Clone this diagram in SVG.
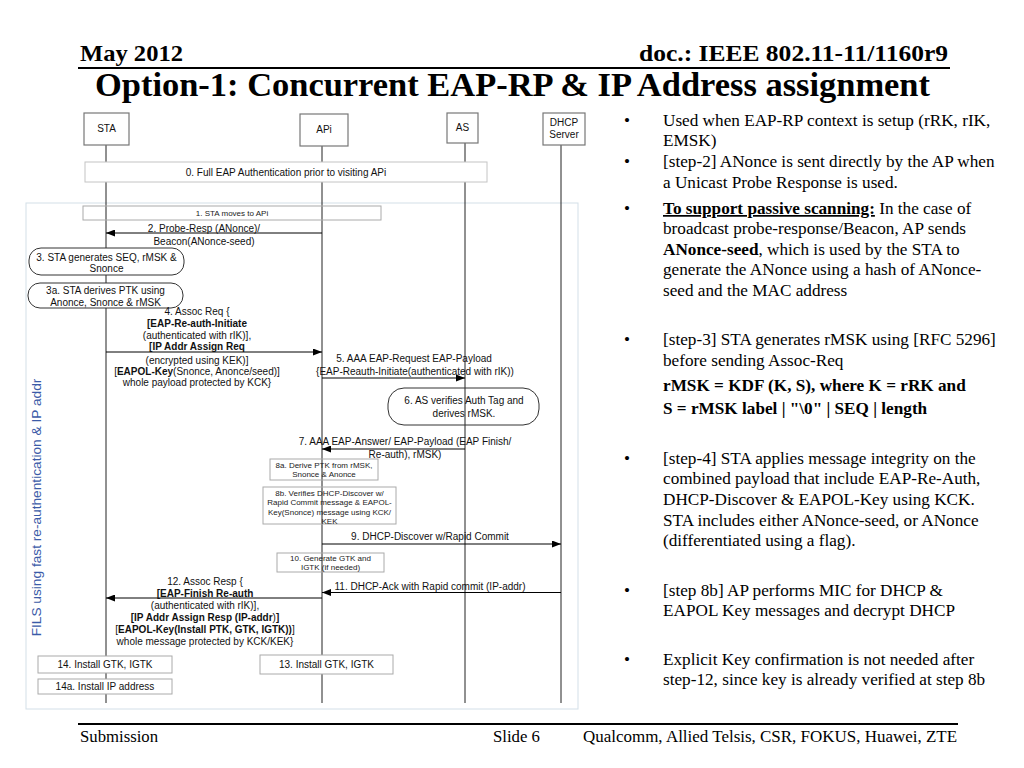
<svg xmlns="http://www.w3.org/2000/svg" width="1024" height="768" viewBox="0 0 1024 768">
<style>
.hdr{font-family:"Liberation Serif","Times New Roman",serif;font-weight:bold;fill:#000}
.ft{font-family:"Liberation Serif","Times New Roman",serif;font-size:16px;fill:#000}
.rt{font-family:"Liberation Serif","Times New Roman",serif;font-size:17.2px;fill:#000}
.bl{font-weight:bold}
.d{font-family:"Liberation Sans",Arial,sans-serif;font-size:10px;fill:#111;text-anchor:middle}
.s{font-family:"Liberation Sans",Arial,sans-serif;font-size:8px;fill:#222;text-anchor:middle}
.life{stroke:#222;stroke-width:1}
.msg{stroke:#000;stroke-width:1;fill:none;marker-end:url(#ah)}
.pbox{fill:#fff;stroke:#777;stroke-width:1.2}
.nbox{fill:none;stroke:#aaa;stroke-width:1}
.wbox{fill:#fff;stroke:#aaa;stroke-width:1}
.rbox{fill:#fff;stroke:#333;stroke-width:1}
.tbox{fill:none;stroke:#333;stroke-width:1}
</style>
<defs>
<marker id="ah" markerWidth="9" markerHeight="7" refX="9" refY="3.5" orient="auto" markerUnits="userSpaceOnUse"><path d="M0,0 L9,3.5 L0,7 z" fill="#000"/></marker>
</defs>
<rect width="1024" height="768" fill="#fff"/>

<g id="header">
<text class="hdr" x="80" y="61" font-size="23" textLength="103" lengthAdjust="spacingAndGlyphs">May 2012</text>
<text class="hdr" x="948" y="61" font-size="23" text-anchor="end" textLength="309" lengthAdjust="spacingAndGlyphs">doc.: IEEE 802.11-11/1160r9</text>
<line x1="78" y1="68" x2="950" y2="68" stroke="#000" stroke-width="2"/>
<text class="hdr" x="95" y="96" font-size="33" textLength="835" lengthAdjust="spacingAndGlyphs">Option-1: Concurrent EAP-RP &amp; IP Address assignment</text>
</g>

<g id="footer">
<line x1="78" y1="724" x2="958" y2="724" stroke="#000" stroke-width="2"/>
<text class="ft" x="80" y="742" textLength="78" lengthAdjust="spacingAndGlyphs">Submission</text>
<text class="ft" x="493" y="742" textLength="47" lengthAdjust="spacingAndGlyphs">Slide 6</text>
<text class="ft" x="957" y="742" text-anchor="end" textLength="374" lengthAdjust="spacingAndGlyphs">Qualcomm, Allied Telsis, CSR, FOKUS, Huawei, ZTE</text>
</g>

<g id="frame">
<rect x="26" y="203" width="552" height="506" fill="none" stroke="#d3dfe8" stroke-width="1"/>
<text x="0" y="0" transform="translate(41,507.5) rotate(-90)" font-family="'Liberation Sans',Arial,sans-serif" font-size="13.7" fill="#3b5ba8" text-anchor="middle">FILS using fast re-authentication &amp; IP addr</text>
</g>

<g id="lifelines">
<line class="life" x1="106" y1="145" x2="106" y2="703"/>
<line class="life" x1="322" y1="146" x2="322" y2="703"/>
<line class="life" x1="465" y1="143" x2="465" y2="703"/>
<line class="life" x1="561" y1="145" x2="561" y2="703"/>
</g>

<g id="sta"><rect class="pbox" x="84" y="113" width="45" height="32"/><text class="d" x="106.5" y="132" font-size="9.5">STA</text></g>
<g id="api"><rect class="pbox" x="300" y="114" width="48" height="32"/><text class="d" x="324" y="133" font-size="9.5">APi</text></g>
<g id="as"><rect class="pbox" x="447" y="113" width="31" height="30"/><text class="d" x="462.5" y="131" font-size="9.5">AS</text></g>
<g id="dhcp"><rect class="pbox" x="543" y="113" width="42" height="32"/><text class="d" x="564" y="126" font-size="9.5">DHCP</text><text class="d" x="564" y="137.5" font-size="9.5">Server</text></g>

<g id="step0"><rect x="85" y="162" width="402" height="20" fill="#fff" stroke="#c4c4c4"/><text class="d" x="286" y="175.5" font-size="9.6">0. Full EAP Authentication prior to visiting APi</text></g>
<g id="step1"><rect class="nbox" x="83" y="206" width="298" height="14" stroke="#bbb"/><text class="s" x="232" y="216" font-size="7.8">1. STA moves to APi</text></g>

<g id="connectors">
<line class="msg" x1="322" y1="233" x2="106" y2="233"/>
<line class="msg" x1="106" y1="352" x2="322" y2="352"/>
<line class="msg" x1="322" y1="378" x2="465" y2="378"/>
<line class="msg" x1="465" y1="449" x2="322" y2="449"/>
<line class="msg" x1="322" y1="544" x2="561" y2="544"/>
<line class="msg" x1="561" y1="592.5" x2="322" y2="592.5"/>
<line class="msg" x1="322" y1="598" x2="106" y2="598"/>
</g>

<g id="label2"><text class="d" x="204" y="231.5">2. Probe-Resp (ANonce)/</text><text class="d" x="204" y="244.5">Beacon(ANonce-seed)</text></g>

<g id="step3"><rect class="rbox" x="29" y="248" width="155" height="27" rx="12" ry="12"/><text class="d" x="106.5" y="260.5">3. STA generates SEQ, rMSK &amp;</text><text class="d" x="106.5" y="272">Snonce</text></g>
<g id="step3a"><rect class="rbox" x="28" y="283" width="155" height="25" rx="12" ry="12"/><text class="d" x="105.5" y="294">3a. STA derives PTK using</text><text class="d" x="105.5" y="305.5">Anonce, Snonce &amp; rMSK</text></g>

<g id="label4">
<text class="d" x="197" y="315">4. Assoc Req {</text>
<text class="d" x="197" y="327"><tspan class="bl">[EAP-Re-auth-Initiate</tspan></text>
<text class="d" x="197" y="338.5">(authenticated with rIK)],</text>
<text class="d" x="197" y="350"><tspan class="bl">[IP Addr Assign Req</tspan></text>
<text class="d" x="197" y="363.5">(encrypted using KEK)]</text>
<text class="d" x="197" y="375">[<tspan class="bl">EAPOL-Key</tspan>(Snonce, Anonce/seed)]</text>
<text class="d" x="197" y="386">whole payload protected by KCK}</text>
</g>

<g id="label5"><text class="d" x="414" y="361.5">5. AAA EAP-Request EAP-Payload</text><text class="d" x="415" y="374.5">{EAP-Reauth-Initiate(authenticated with rIK))</text></g>

<g id="step6"><rect class="tbox" x="388" y="388" width="151" height="37" rx="16" ry="16"/><text class="d" x="464" y="403.5">6. AS verifies Auth Tag and</text><text class="d" x="464" y="416.5">derives rMSK.</text></g>

<g id="label7"><text class="d" x="405" y="444.5">7. AAA EAP-Answer/ EAP-Payload (EAP Finish/</text><text class="d" x="405" y="457.5">Re-auth), rMSK)</text></g>

<g id="step8a"><rect class="nbox" x="270" y="459" width="108" height="21"/><text class="s" x="324" y="467.5">8a. Derive PTK from rMSK,</text><text class="s" x="324" y="477">Snonce &amp; Anonce</text></g>
<g id="step8b"><rect class="nbox" x="263" y="487" width="133" height="37"/><text class="s" x="329.5" y="495.5">8b. Verifies DHCP-Discover w/</text><text class="s" x="329.5" y="505">Rapid Commit message &amp; EAPOL-</text><text class="s" x="329.5" y="514.5">Key(Snonce) message using KCK/</text><text class="s" x="329.5" y="523.5">KEK</text></g>

<g id="label9"><text class="d" x="430" y="539.5">9. DHCP-Discover w/Rapid Commit</text></g>

<g id="step10"><rect class="nbox" x="277" y="553" width="107" height="19"/><text class="s" x="330.5" y="560.5">10. Generate GTK and</text><text class="s" x="330.5" y="570">IGTK (if needed)</text></g>

<g id="label11"><text class="d" x="430" y="590">11. DHCP-Ack with Rapid commit (IP-addr)</text></g>

<g id="label12">
<text class="d" x="205" y="585">12. Assoc Resp {</text>
<text class="d" x="205" y="596.5"><tspan class="bl">[EAP-Finish Re-auth</tspan></text>
<text class="d" x="205" y="608.5">(authenticated with rIK)],</text>
<text class="d" x="205" y="621"><tspan class="bl">[IP Addr Assign Resp (IP-addr</tspan>)<tspan class="bl">]</tspan></text>
<text class="d" x="205" y="633">[<tspan class="bl">EAPOL-Key(Install PTK, GTK, IGTK))</tspan>]</text>
<text class="d" x="205" y="645">whole message protected by KCK/KEK}</text>
</g>

<g id="step14"><rect class="wbox" x="38" y="656" width="134" height="17"/><text class="d" x="105" y="668" font-size="10.5">14. Install GTK, IGTK</text></g>
<g id="step13"><rect class="wbox" x="260" y="655" width="133" height="19"/><text class="d" x="326.5" y="668" font-size="10.5">13. Install GTK, IGTK</text></g>
<g id="step14a"><rect class="wbox" x="38" y="679" width="134" height="15"/><text class="d" x="105" y="690" font-size="10.5">14a. Install IP address</text></g>

<g id="notes" class="rt">
<text x="624" y="126">•</text>
<text x="663" y="126">Used when EAP-RP context is setup (rRK, rIK,</text>
<text x="663" y="146">EMSK)</text>
<text x="624" y="167">•</text>
<text x="663" y="167">[step-2] ANonce is sent directly by the AP when</text>
<text x="663" y="188">a Unicast Probe Response is used.</text>
<text x="624" y="214">•</text>
<text x="663" y="214"><tspan class="bl" text-decoration="underline">To support passive scanning:</tspan> In the case of</text>
<text x="663" y="234">broadcast probe-response/Beacon, AP sends</text>
<text x="663" y="255"><tspan class="bl">ANonce-seed</tspan>, which is used by the STA to</text>
<text x="663" y="275">generate the ANonce using a hash of ANonce-</text>
<text x="663" y="296">seed and the MAC address</text>
<text x="624" y="345">•</text>
<text x="663" y="345">[step-3] STA generates rMSK using [RFC 5296]</text>
<text x="663" y="366">before sending Assoc-Req</text>
<text x="663" y="391" class="bl">rMSK = KDF (K, S), where K = rRK and</text>
<text x="663" y="414" class="bl">S = rMSK label | "\0" | SEQ | length</text>
<text x="624" y="464">•</text>
<text x="663" y="464">[step-4] STA applies message integrity on the</text>
<text x="663" y="484">combined payload that include EAP-Re-Auth,</text>
<text x="663" y="505">DHCP-Discover &amp; EAPOL-Key using KCK.</text>
<text x="663" y="526">STA includes either ANonce-seed, or ANonce</text>
<text x="663" y="546">(differentiated using a flag).</text>
<text x="624" y="596">•</text>
<text x="663" y="596">[step 8b] AP performs MIC for DHCP &amp;</text>
<text x="663" y="616">EAPOL Key messages and decrypt DHCP</text>
<text x="624" y="665">•</text>
<text x="663" y="665">Explicit Key confirmation is not needed after</text>
<text x="663" y="685">step-12, since key is already verified at step 8b</text>
</g>
</svg>
